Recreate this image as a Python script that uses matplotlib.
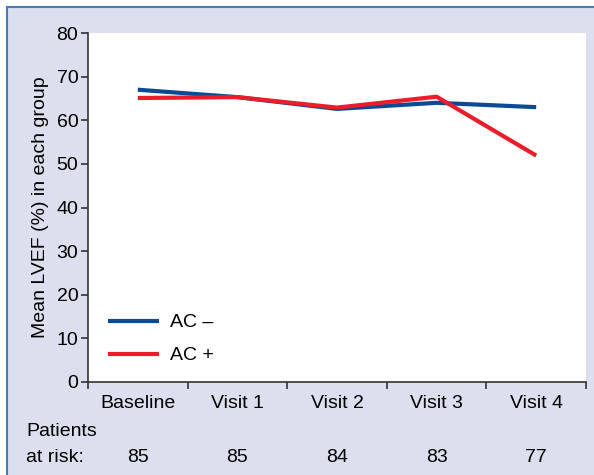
import matplotlib
matplotlib.use("Agg")
import matplotlib.pyplot as plt
from matplotlib.patches import Rectangle

plt.rcParams['font.family'] = ['Liberation Sans Narrow', 'Liberation Sans', 'DejaVu Sans']

# data
visits = ["Baseline", "Visit 1", "Visit 2", "Visit 3", "Visit 4"]
lvef_ac_minus = [67.0, 65.3, 62.6, 64.0, 63.0]
lvef_ac_plus = [65.1, 65.3, 62.9, 65.4, 51.9]
at_risk = [85, 85, 84, 83, 77]

bg = "#dcdfee"
fs = 14
fig = plt.figure(figsize=(5.94, 4.75), dpi=100, facecolor="white")

# lavender panel with blue frame
panel = Rectangle((7 / 594, -0.1), 1.2, (475 - 7) / 475 + 0.1,
                  transform=fig.transFigure, facecolor=bg,
                  edgecolor="#4a7ab5", linewidth=1.5, zorder=-1)
fig.patches.append(panel)

ax = fig.add_axes([88 / 594, 93 / 475, 498 / 594, 349 / 475])
ax.set_zorder(2)
ax.set_facecolor("white")

x = range(len(visits))
ax.plot(x, lvef_ac_minus, color="#0b4b94", lw=3, label="AC \u2013", solid_capstyle="butt")
ax.plot(x, lvef_ac_plus, color="#ec1c2a", lw=3, label="AC +", solid_capstyle="butt")

ax.set_xlim(-0.5, 4.5)
ax.set_ylim(0, 80)
ax.set_yticks(range(0, 81, 10))
ax.set_xticks([i - 0.5 for i in range(6)])
ax.set_xticklabels([])
ax.set_xticks(list(x), minor=True)
ax.set_xticklabels(visits, minor=True)
ax.tick_params(axis="x", which="minor", length=0, pad=9, labelsize=fs)
ax.tick_params(axis="x", which="major", length=5, width=1.2, color="#333333")
ax.tick_params(axis="y", length=5, width=1.2, color="#333333", labelsize=fs, pad=2)

for s in ["top", "right"]:
    ax.spines[s].set_visible(False)
for s in ["left", "bottom"]:
    ax.spines[s].set_color("#333333")
    ax.spines[s].set_linewidth(1.2)

ax.set_ylabel("Mean LVEF (%) in each group", fontsize=fs, labelpad=5)

ax.legend(loc="lower left", bbox_to_anchor=(0.005, 0.0), frameon=False,
          fontsize=fs, handlelength=2.6, handletextpad=0.6, labelspacing=0.8)

# patients at risk row
fig.text(26 / 594, 1 - 432 / 475, "Patients", fontsize=fs, va="center", ha="left", zorder=3)
fig.text(26 / 594, 1 - 458 / 475, "at risk:", fontsize=fs, va="center", ha="left", zorder=3)
for i, n in enumerate(at_risk):
    xd = ax.transData.transform((i, 0))[0]
    fig.text(xd / fig.bbox.width, 1 - 458 / 475, str(n), fontsize=fs,
             va="center", ha="center", zorder=3)

fig.savefig("out.png", dpi=100, facecolor="white")
